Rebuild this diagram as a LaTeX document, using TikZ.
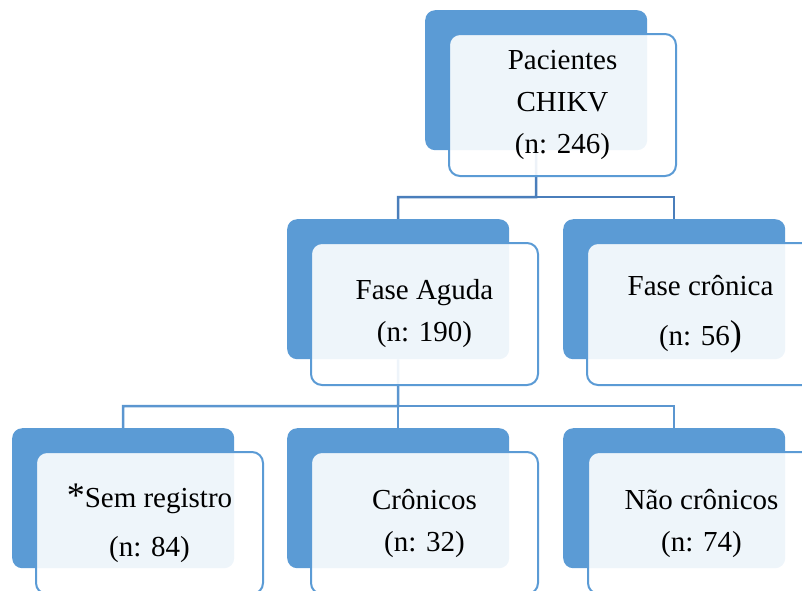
\documentclass[tikz,border=0pt]{standalone}
\usepackage{fontspec}
\setmainfont{Liberation Serif}
\usetikzlibrary{backgrounds}
\definecolor{accent}{HTML}{5B9BD5}
\definecolor{linkdark}{HTML}{4A7EBB}
\definecolor{linklight}{HTML}{5B96D0}
\newcommand{\bigfont}{\fontsize{36}{42}\selectfont}
\begin{document}
\begin{tikzpicture}[x=1pt,y=-1pt,
  backbox/.style={draw=none, fill=accent, rounded corners=10pt,
    minimum width=222pt, minimum height=140pt, anchor=north west, inner sep=0pt},
  frontbox/.style={draw=accent, line width=2pt, fill=white, fill opacity=0.9,
    text opacity=1, rounded corners=11pt, minimum width=227pt, minimum height=142pt,
    anchor=north west, align=center, inner sep=0pt,
    font=\fontsize{29}{42}\selectfont},
  linkA/.style={draw=linkdark, line width=2.5pt},
  linkB/.style={draw=linklight, line width=2.5pt}]
\clip (0,0) rectangle (802,590);

% root
\node[backbox]  (pacB) at (425,10) {};
\node[frontbox] (pacF) at (448,33) {Pacientes\\CHIKV\\(n: 246)};

% phases
\node[backbox]  (faB) at (287,219) {};
\node[frontbox] (faF) at (310,242) {Fase Aguda\\(n: 190)};
\node[backbox]  (fcB) at (563,219) {};
\node[frontbox] (fcF) at (586,242) {Fase crônica\\[8pt](n: 56{\bigfont )}};

% outcomes of the acute phase
\node[backbox]  (srB) at (12,428) {};
\node[frontbox] (srF) at (35,451) {{\bigfont *}Sem registro\\[7pt](n: 84)};
\node[backbox]  (crB) at (287,428) {};
\node[frontbox] (crF) at (310,451) {Crônicos\\(n: 32)};
\node[backbox]  (ncB) at (563,428) {};
\node[frontbox] (ncF) at (587,451) {Não crônicos\\(n: 74)};

% connectors run behind the boxes
\begin{pgfonlayer}{background}
  \coordinate (j1) at (536,197);
  \coordinate (j2) at (398,406);
  \draw[linkA] (pacB.south) -- (j1) -| (faB.north);
  \draw[linkA] (j1) -| (fcB.north);
  \draw[linkB] (faB.south) -- (j2) -| (srB.north);
  \draw[linkB] (j2) -| (crB.north);
  \draw[linkB] (j2) -| (ncB.north);
\end{pgfonlayer}
\end{tikzpicture}
\end{document}
